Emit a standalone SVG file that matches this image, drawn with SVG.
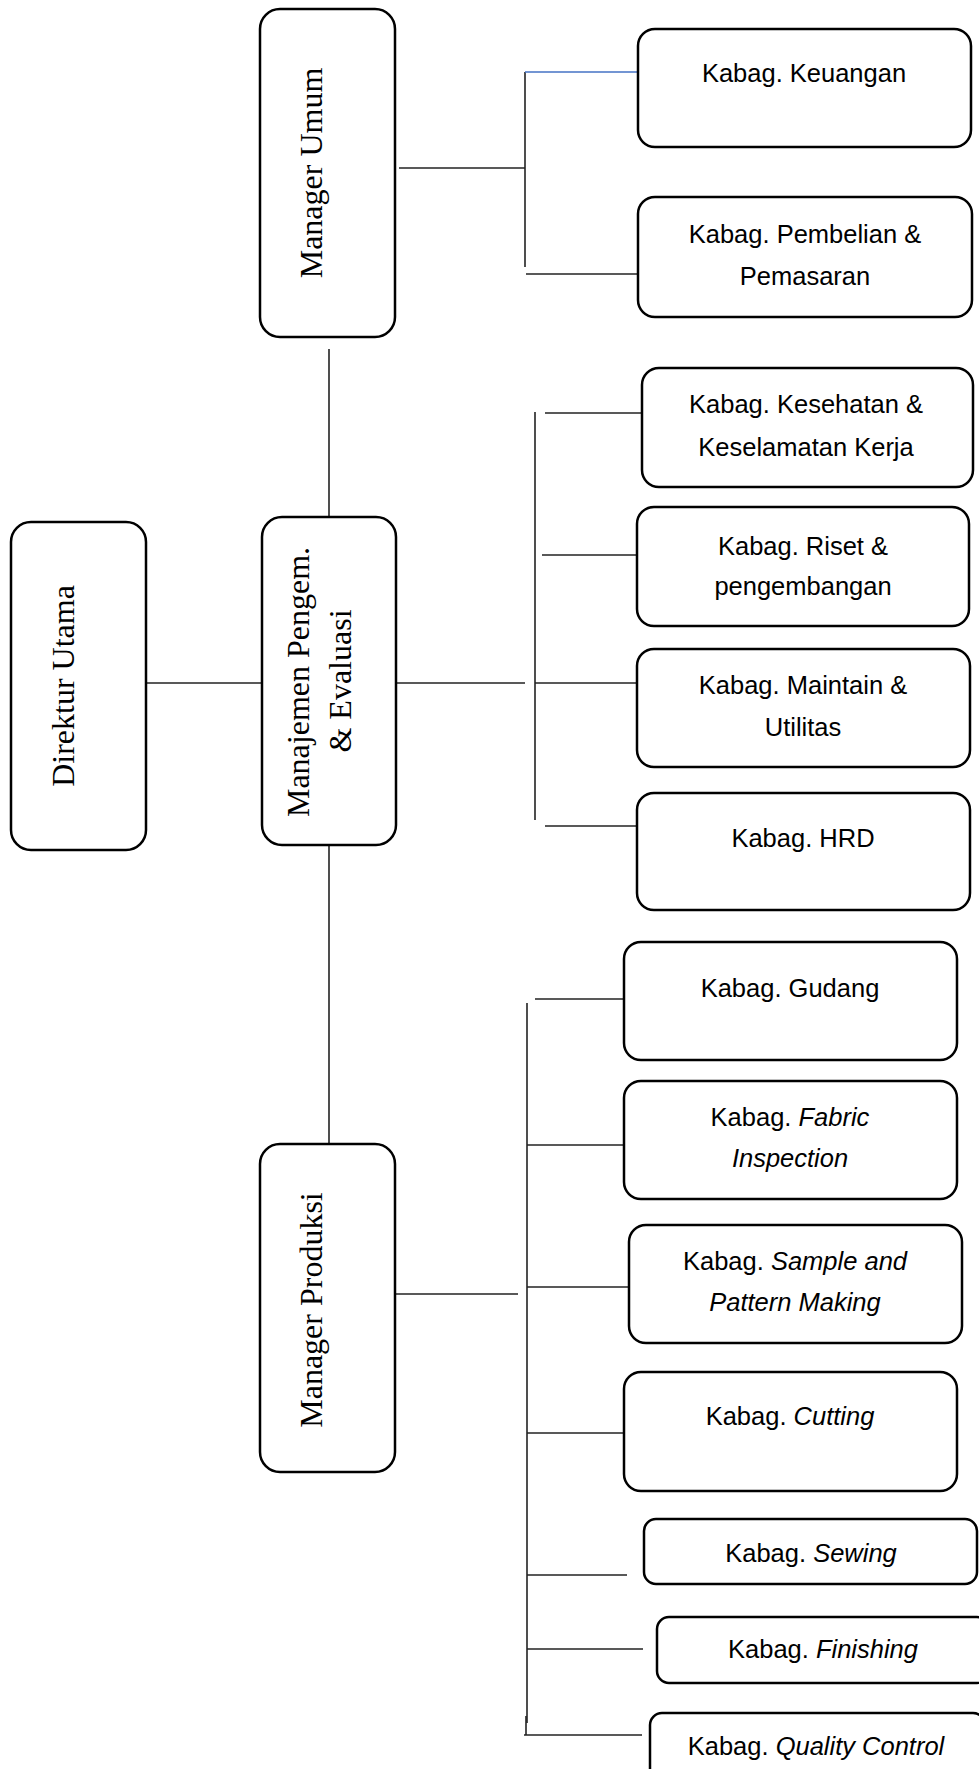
<svg xmlns="http://www.w3.org/2000/svg" width="979" height="1769" viewBox="0 0 979 1769">
  <style>
    .box { fill: #fff; stroke: #000; stroke-width: 2.5; }
    .ln { stroke: #222; stroke-width: 1.6; fill: none; }
    .ln-blue { stroke: #4472c4; stroke-width: 1.6; fill: none; }
    .serif { font-family: "Liberation Serif", "Times New Roman", serif; font-size: 32px; fill: #000; text-anchor: middle; }
    .sans { font-family: "Liberation Sans", Arial, sans-serif; font-size: 25.5px; fill: #000; text-anchor: middle; }
    .it { font-style: italic; }
  </style>
  <rect width="979" height="1769" fill="#fff"/>

  <!-- connectors -->
  <g id="connectors">
    <!-- Manager Umum branch -->
    <line class="ln" x1="399" y1="168" x2="525" y2="168"/>
    <line class="ln" x1="525" y1="72" x2="525" y2="267"/>
    <line class="ln-blue" x1="525" y1="72" x2="641" y2="72"/>
    <line class="ln" x1="526" y1="274" x2="641" y2="274"/>
    <!-- vertical spine between managers -->
    <line class="ln" x1="329" y1="349" x2="329" y2="517"/>
    <line class="ln" x1="329" y1="845" x2="329" y2="1144"/>
    <!-- Direktur to Manajemen -->
    <line class="ln" x1="146" y1="683" x2="262" y2="683"/>
    <!-- Manajemen branch -->
    <line class="ln" x1="394" y1="683" x2="525" y2="683"/>
    <line class="ln" x1="535" y1="412" x2="535" y2="820"/>
    <line class="ln" x1="545" y1="413" x2="642" y2="413"/>
    <line class="ln" x1="542" y1="555" x2="637" y2="555"/>
    <line class="ln" x1="535" y1="683" x2="637" y2="683"/>
    <line class="ln" x1="545" y1="826" x2="641" y2="826"/>
    <!-- Manager Produksi branch -->
    <line class="ln" x1="396" y1="1294" x2="518" y2="1294"/>
    <line class="ln" x1="527" y1="1003" x2="527" y2="1723"/>
    <line class="ln" x1="526" y1="1716" x2="526" y2="1735"/>
    <line class="ln" x1="535" y1="999" x2="627" y2="999"/>
    <line class="ln" x1="527" y1="1145" x2="624" y2="1145"/>
    <line class="ln" x1="527" y1="1287" x2="631" y2="1287"/>
    <line class="ln" x1="527" y1="1433" x2="627" y2="1433"/>
    <line class="ln" x1="527" y1="1575" x2="627" y2="1575"/>
    <line class="ln" x1="527" y1="1649" x2="643" y2="1649"/>
    <line class="ln" x1="524" y1="1735" x2="642" y2="1735"/>
  </g>

  <!-- top management (vertical labels) -->
  <g id="direktur-utama">
    <rect class="box" x="11" y="522" width="135" height="328" rx="20"/>
    <text class="serif" transform="translate(74,686) rotate(-90)">Direktur Utama</text>
  </g>
  <g id="manager-umum">
    <rect class="box" x="260" y="9" width="135" height="328" rx="20"/>
    <text class="serif" transform="translate(322,173) rotate(-90)">Manager Umum</text>
  </g>
  <g id="manajemen-pengem">
    <rect class="box" x="262" y="517" width="134" height="328" rx="20"/>
    <text class="serif" transform="translate(309,682) rotate(-90)">Manajemen Pengem.</text>
    <text class="serif" transform="translate(351,681) rotate(-90)">&amp; Evaluasi</text>
  </g>
  <g id="manager-produksi">
    <rect class="box" x="260" y="1144" width="135" height="328" rx="20"/>
    <text class="serif" transform="translate(322,1310) rotate(-90)">Manager Produksi</text>
  </g>

  <!-- departments under Manager Umum -->
  <g id="kabag-keuangan">
    <rect class="box" x="638" y="29" width="333" height="118" rx="17"/>
    <text class="sans" x="804" y="82">Kabag. Keuangan</text>
  </g>
  <g id="kabag-pembelian">
    <rect class="box" x="638" y="197" width="334" height="120" rx="17"/>
    <text class="sans" x="805" y="243">Kabag. Pembelian &amp;</text>
    <text class="sans" x="805" y="285">Pemasaran</text>
  </g>

  <!-- departments under Manajemen Pengem. & Evaluasi -->
  <g id="kabag-k3">
    <rect class="box" x="642" y="368" width="331" height="119" rx="17"/>
    <text class="sans" x="806" y="413">Kabag. Kesehatan &amp;</text>
    <text class="sans" x="806" y="456">Keselamatan Kerja</text>
  </g>
  <g id="kabag-riset">
    <rect class="box" x="637" y="507" width="332" height="119" rx="17"/>
    <text class="sans" x="803" y="555">Kabag. Riset &amp;</text>
    <text class="sans" x="803" y="595">pengembangan</text>
  </g>
  <g id="kabag-maintain">
    <rect class="box" x="637" y="649" width="333" height="118" rx="17"/>
    <text class="sans" x="803" y="694">Kabag. Maintain &amp;</text>
    <text class="sans" x="803" y="736">Utilitas</text>
  </g>
  <g id="kabag-hrd">
    <rect class="box" x="637" y="793" width="333" height="117" rx="17"/>
    <text class="sans" x="803" y="847">Kabag. HRD</text>
  </g>

  <!-- departments under Manager Produksi -->
  <g id="kabag-gudang">
    <rect class="box" x="624" y="942" width="333" height="118" rx="17"/>
    <text class="sans" x="790" y="997">Kabag. Gudang</text>
  </g>
  <g id="kabag-fabric">
    <rect class="box" x="624" y="1081" width="333" height="118" rx="17"/>
    <text class="sans" x="790" y="1126">Kabag. <tspan class="it">Fabric</tspan></text>
    <text class="sans it" x="790" y="1167">Inspection</text>
  </g>
  <g id="kabag-sample">
    <rect class="box" x="629" y="1225" width="333" height="118" rx="17"/>
    <text class="sans" x="795" y="1270">Kabag. <tspan class="it">Sample and</tspan></text>
    <text class="sans it" x="795" y="1311">Pattern Making</text>
  </g>
  <g id="kabag-cutting">
    <rect class="box" x="624" y="1372" width="333" height="119" rx="17"/>
    <text class="sans" x="790" y="1425">Kabag. <tspan class="it">Cutting</tspan></text>
  </g>
  <g id="kabag-sewing">
    <rect class="box" x="644" y="1519" width="333" height="65" rx="12"/>
    <text class="sans" x="811" y="1562">Kabag. <tspan class="it">Sewing</tspan></text>
  </g>
  <g id="kabag-finishing">
    <rect class="box" x="657" y="1617" width="332" height="66" rx="12"/>
    <text class="sans" x="823" y="1658">Kabag. <tspan class="it">Finishing</tspan></text>
  </g>
  <g id="kabag-qc">
    <rect class="box" x="650" y="1713" width="335" height="70" rx="12"/>
    <text class="sans" x="816" y="1755">Kabag. <tspan class="it">Quality Control</tspan></text>
  </g>
</svg>
